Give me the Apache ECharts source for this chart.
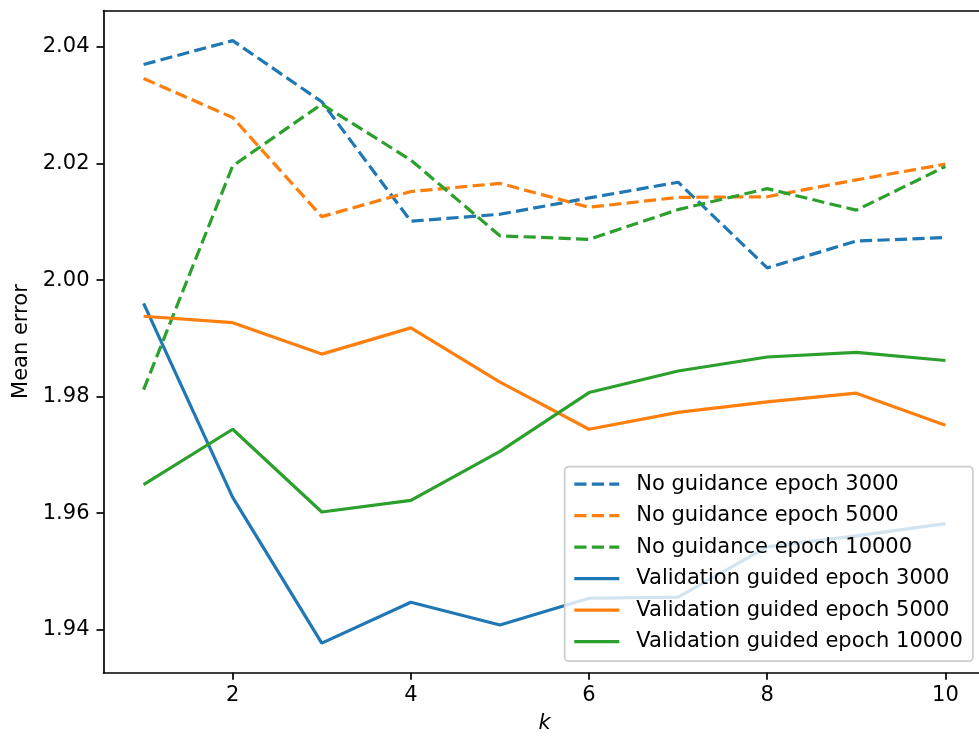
<!DOCTYPE html>
<html>
<head>
<meta charset="utf-8">
<script src="https://cdn.jsdelivr.net/npm/echarts@6/dist/echarts.min.js"></script>
<style>
html,body{margin:0;padding:0;background:#fff;}
#chart{width:979px;height:738px;}
</style>
</head>
<body>
<div id="chart"></div>
<script>
const kValues = [1, 2, 3, 4, 5, 6, 7, 8, 9, 10];
const xTicks = [2, 4, 6, 8, 10];
const yTicks = [1.94, 1.96, 1.98, 2.00, 2.02, 2.04];

const noGuid3000 = [2.0370, 2.0411, 2.0306, 2.0101, 2.0113, 2.0141, 2.0168, 2.0021, 2.0067, 2.0073];
const noGuid5000 = [2.0346, 2.0279, 2.0109, 2.0152, 2.0166, 2.0125, 2.0142, 2.0143, 2.0172, 2.0199];
const noGuid10000 = [1.9812, 2.0196, 2.0302, 2.0206, 2.0076, 2.0070, 2.0121, 2.0157, 2.0120, 2.0195];
const valGuid3000 = [1.9960, 1.9627, 1.9377, 1.9447, 1.9408, 1.9454, 1.9456, 1.9542, 1.9561, 1.9582];
const valGuid5000 = [1.9938, 1.9927, 1.9873, 1.9918, 1.9825, 1.9744, 1.9773, 1.9791, 1.9806, 1.9751];
const valGuid10000 = [1.9649, 1.9744, 1.9602, 1.9622, 1.9706, 1.9807, 1.9844, 1.9868, 1.9876, 1.9862];

const seriesNames = [
  'No guidance epoch 3000', 'No guidance epoch 5000', 'No guidance epoch 10000',
  'Validation guided epoch 3000', 'Validation guided epoch 5000', 'Validation guided epoch 10000'
];
const seriesData = [noGuid3000, noGuid5000, noGuid10000, valGuid3000, valGuid5000, valGuid10000];
const colors = ['#1f77b4', '#ff7f0e', '#2ca02c', '#1f77b4', '#ff7f0e', '#2ca02c'];
const dashed = [true, true, true, false, false, false];

const FONT = 'DejaVu Sans';
const chart = echarts.init(document.getElementById('chart'), null, {renderer: 'canvas'});

const series = seriesData.map((vals, i) => ({
  name: seriesNames[i],
  type: 'line',
  data: kValues.map((k, j) => [k, vals[j]]),
  symbol: 'none',
  showSymbol: false,
  color: colors[i],
  itemStyle: {color: colors[i]},
  lineStyle: {color: colors[i], width: 3.2, type: dashed[i] ? [12.2, 5.3] : 'solid', cap: 'butt'},
  emphasis: {disabled: true},
  animation: false,
  z: 2 + i * 0.01
}));

chart.setOption({
  animation: false,
  backgroundColor: '#ffffff',
  grid: {left: 103.5, top: 10.5, width: 882, height: 662.2, containLabel: false, outerBoundsMode: 'none'},
  xAxis: [{
    type: 'value', min: 0.55, max: 10.45, position: 'bottom',
    splitLine: {show: false},
    axisLine: {show: true, onZero: false, lineStyle: {color: '#000', width: 1.7}},
    axisTick: {show: true, inside: false, length: 7, lineStyle: {color: '#000', width: 1.7}, customValues: xTicks},
    axisLabel: {show: true, color: '#000', fontFamily: FONT, fontSize: 21, margin: 12, customValues: xTicks,
      formatter: v => String(v)},
    name: 'k', nameLocation: 'middle', nameGap: 40,
    nameTextStyle: {color: '#000', fontFamily: FONT, fontSize: 21, fontStyle: 'italic'}
  }, {
    type: 'value', min: 0.55, max: 10.45, position: 'top',
    splitLine: {show: false},
    axisLine: {show: true, onZero: false, lineStyle: {color: '#000', width: 1.7}},
    axisTick: {show: false}, axisLabel: {show: false}
  }],
  yAxis: [{
    type: 'value', min: 1.93262, max: 2.04627, position: 'left',
    splitLine: {show: false},
    axisLine: {show: true, onZero: false, lineStyle: {color: '#000', width: 1.7}},
    axisTick: {show: true, inside: false, length: 7, lineStyle: {color: '#000', width: 1.7}, customValues: yTicks},
    axisLabel: {show: true, color: '#000', fontFamily: FONT, fontSize: 21, margin: 14, customValues: yTicks,
      formatter: v => Number(v).toFixed(2)},
    name: 'Mean error', nameLocation: 'middle', nameGap: 71, nameRotate: 90,
    nameTextStyle: {color: '#000', fontFamily: FONT, fontSize: 21}
  }],
  legend: {
    orient: 'vertical',
    left: 564.7, top: 466.7,
    padding: [7, 10, 9, 8],
    itemWidth: 45, itemHeight: 21, itemGap: 10.5,
    backgroundColor: 'rgba(255,255,255,0.8)',
    borderColor: '#cccccc', borderWidth: 1.7, borderRadius: 4,
    itemStyle: {opacity: 0, borderWidth: 0},
    lineStyle: {width: 3.2},
    textStyle: {color: '#000', fontFamily: FONT, fontSize: 21, padding: [0, 0, 0, 12]},
    data: seriesNames
  },
  series: series
});
</script>
</body>
</html>
